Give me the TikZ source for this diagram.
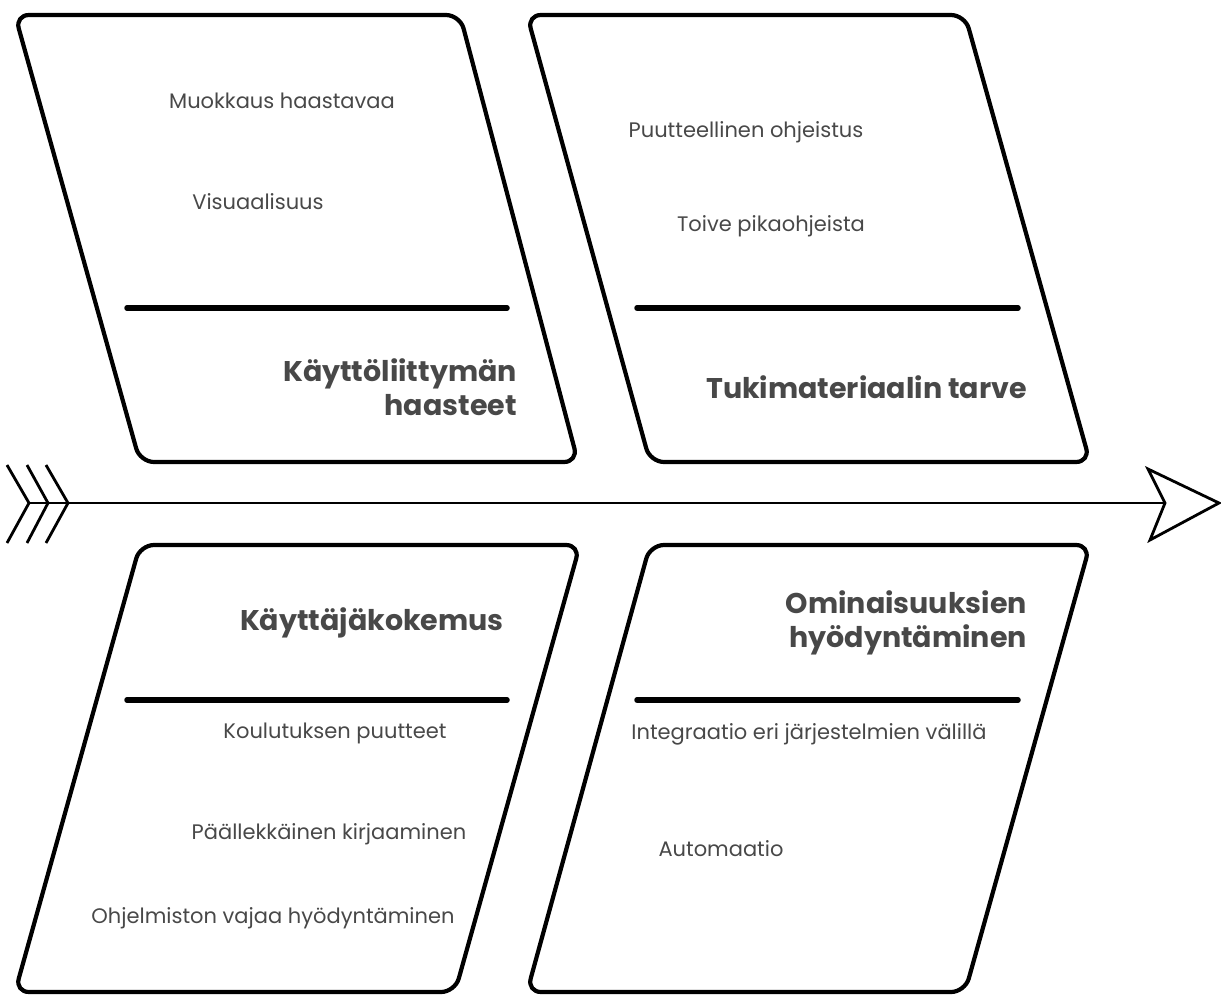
\documentclass[tikz,border=0pt]{standalone}
\usepackage{fontspec}
\setmainfont{Poppins}
\definecolor{txt}{RGB}{72,72,72}
\begin{document}
\begin{tikzpicture}[x=1pt,y=-1pt,
  box/.style={line width=4.2pt, rounded corners=14pt, line join=round},
  divider/.style={line width=5.5pt, line cap=round},
  item/.style={text=txt, font=\fontsize{21}{24}\selectfont, inner sep=0pt},
  title/.style={text=txt, font=\fontsize{28.5}{34}\selectfont\bfseries, inner sep=0pt, align=right},
  spine/.style={line width=2.5pt},
  chev/.style={line width=2.8pt, line join=miter}]
\useasboundingbox (0,0) rectangle (1221,996);
% boxes
\draw[box] (15,15) -- (460,15) -- (578,462) -- (140,462) -- cycle;
\draw[box] (527,15) -- (965,15) -- (1090,462) -- (650,462) -- cycle;
\draw[box] (140,545) -- (580,545) -- (455,992) -- (15,992) -- cycle;
\draw[box] (650,545) -- (1090,545) -- (965,992) -- (527,992) -- cycle;
% dividers
\draw[divider] (127,308) -- (507,308);
\draw[divider] (637,308) -- (1018,308);
\draw[divider] (127,700) -- (507,700);
\draw[divider] (637,700) -- (1018,700);
% spine
\coordinate (tail) at (29,503);
\coordinate (head) at (1165,503);
\draw[spine] (tail) -- (head);
\draw[chev] (7,465) -- (29,503) -- (7,543);
\draw[chev] (27,465) -- (48,503) -- (27,543);
\draw[chev] (46,465) -- (68,503) -- (46,543);
\draw[line width=2.8pt, line join=miter, fill=white] (1148,469) -- (1219,503) -- (1150,540) -- (head) -- cycle;
% texts
\node[item] (t1) at (282,101) {Muokkaus haastavaa};
\node[item] (t2) at (258,202) {Visuaalisuus};
\node[title, anchor=east] (h1) at (517,387) {Käyttöliittymän\\haasteet};
\node[item] (t3) at (746,132) {Puutteellinen ohjeistus};
\node[item] (t4) at (771,226) {Toive pikaohjeista};
\node[title, anchor=east] (h2) at (1027,387) {Tukimateriaalin tarve};
\node[title, anchor=east] (h3) at (504,623) {Käyttäjäkokemus};
\node[item] (t5) at (335,733) {Koulutuksen puutteet};
\node[item] (t6) at (329,834) {Päällekkäinen kirjaaminen};
\node[item] (t7) at (273,918) {Ohjelmiston vajaa hyödyntäminen};
\node[title, anchor=east] (h4) at (1027,623) {Ominaisuuksien\\hyödyntäminen};
\node[item] (t8) at (809,734) {Integraatio eri järjestelmien välillä};
\node[item] (t9) at (721,849) {Automaatio};
\end{tikzpicture}
\end{document}
